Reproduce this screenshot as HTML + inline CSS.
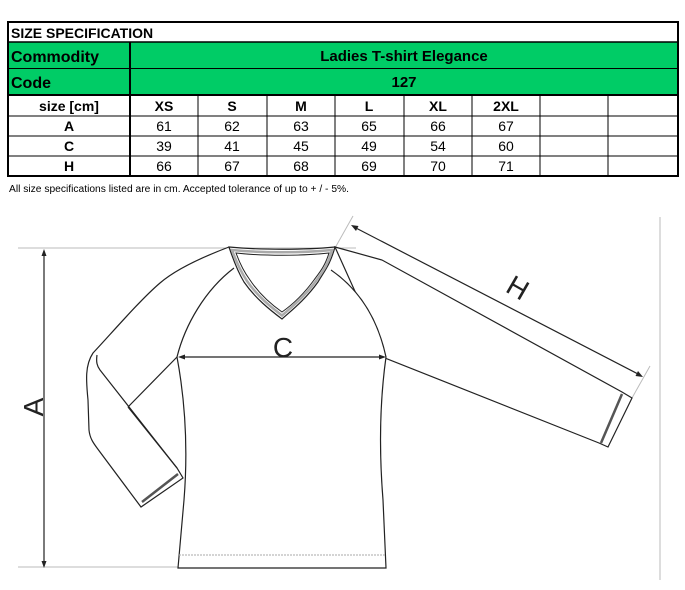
<!DOCTYPE html>
<html><head><style>
html,body{margin:0;padding:0;background:#fff;}
svg{display:block;font-family:"Liberation Sans",Arial,sans-serif;}
</style></head><body>
<svg width="685" height="590" viewBox="0 0 685 590" xmlns="http://www.w3.org/2000/svg">
<!-- table -->
<rect x="130" y="42" width="548" height="53" fill="#00cc66"/>
<rect x="8" y="42" width="122" height="53" fill="#00cc66"/>
<g stroke="#000" fill="none">
<rect x="8" y="22" width="670" height="154" stroke-width="2"/>
<line x1="8" y1="42" x2="678" y2="42" stroke-width="1.5"/>
<line x1="8" y1="68.5" x2="678" y2="68.5" stroke-width="1"/>
<line x1="8" y1="95" x2="678" y2="95" stroke-width="2"/>
<line x1="8" y1="116" x2="678" y2="116" stroke-width="1"/>
<line x1="8" y1="136" x2="678" y2="136" stroke-width="1"/>
<line x1="8" y1="156" x2="678" y2="156" stroke-width="1"/>
<line x1="130" y1="42" x2="130" y2="176" stroke-width="2"/>
<g stroke-width="1">
<line x1="198" y1="95" x2="198" y2="176"/><line x1="267" y1="95" x2="267" y2="176"/>
<line x1="335" y1="95" x2="335" y2="176"/><line x1="404" y1="95" x2="404" y2="176"/>
<line x1="472" y1="95" x2="472" y2="176"/><line x1="540" y1="95" x2="540" y2="176"/>
<line x1="608" y1="95" x2="608" y2="176"/>
</g></g>
<g font-weight="bold" fill="#000">
<text x="11" y="38" font-size="14">SIZE SPECIFICATION</text>
<text x="11" y="62" font-size="16">Commodity</text>
<text x="11" y="88" font-size="16">Code</text>
<text x="404" y="61" font-size="15" text-anchor="middle">Ladies T-shirt Elegance</text>
<text x="404" y="87" font-size="15" text-anchor="middle">127</text>
<g font-size="14" text-anchor="middle">
<text x="69" y="111">size [cm]</text>
<text x="164" y="111">XS</text><text x="232" y="111">S</text><text x="301" y="111">M</text>
<text x="369" y="111">L</text><text x="438" y="111">XL</text><text x="506" y="111">2XL</text>
<text x="69" y="131">A</text><text x="69" y="151">C</text><text x="69" y="171">H</text>
</g></g>
<g font-size="14" text-anchor="middle" fill="#000">
<text x="164" y="131">61</text><text x="232" y="131">62</text><text x="301" y="131">63</text><text x="369" y="131">65</text><text x="438" y="131">66</text><text x="506" y="131">67</text>
<text x="164" y="151">39</text><text x="232" y="151">41</text><text x="301" y="151">45</text><text x="369" y="151">49</text><text x="438" y="151">54</text><text x="506" y="151">60</text>
<text x="164" y="171">66</text><text x="232" y="171">67</text><text x="301" y="171">68</text><text x="369" y="171">69</text><text x="438" y="171">70</text><text x="506" y="171">71</text>
</g>
<text x="9" y="192" font-size="10" fill="#000" textLength="340" lengthAdjust="spacingAndGlyphs">All size specifications listed are in cm. Accepted tolerance of up to + / - 5%.</text>

<!-- reference lines -->
<g stroke="#bbb" stroke-width="1" fill="none">
<line x1="18" y1="248" x2="356" y2="248"/>
<line x1="18" y1="567" x2="178" y2="567"/>
<line x1="660" y1="217" x2="660" y2="580"/>
<line x1="335" y1="248" x2="353" y2="216"/>
<line x1="632" y1="398" x2="650" y2="366"/>
</g>
<!-- shirt -->
<g stroke="#222" stroke-width="1.2" fill="#fff">
<path d="M229,247 C200,258 175,270 160,283 C140,300 110,335 93,353 C85,365 86,380 88,400 L89,430 C90,440 95,445 100,452 L141,507 L183,478 L177,468 L128,407"/>
<path d="M97,355 C96,362 97,366 100,370 L177,468" fill="none"/>
<line x1="142" y1="502" x2="178" y2="474" stroke="#555" stroke-width="2.5"/>
<path d="M335,247 L382,260 L622,392 L632,398 L608,447 L599,443 L385,358 Z"/>
<line x1="622" y1="394" x2="601" y2="443" stroke="#555" stroke-width="2.5"/>
<path d="M234,268 C205,290 185,325 177,357 C185,400 188,450 184,500 L178,568 L386,568 L383,500 C379,450 380,400 386,357 C378,320 360,290 331,270" />
<path d="M177,357 L128,407" fill="none"/>
<!-- neck band -->
<path d="M229,247 C260,250 305,250 335,247 C330,265 325,270 318,282 C305,300 292,310 282,319 C270,310 255,298 244,282 C238,272 234,262 229,247 Z" fill="#fff"/>
<path d="M236,253 C262,256 302,256 329,253 C325,266 320,272 314,280 C303,295 292,305 282,312 C272,305 260,295 250,280 C244,272 240,264 236,253 Z" fill="#fff" stroke="#222" stroke-width="1"/>
<path d="M232,250 C262,253 302,253 332,250 C328,265 323,271 316,281 C304,297 292,307 282,315.5 C271,307 258,297 247,281 C241,272 237,264 232,250 Z" fill="none" stroke="#aaa" stroke-width="2.5"/>
<line x1="179" y1="555" x2="385" y2="555" stroke="#aaa" stroke-width="1" stroke-dasharray="2,1"/>
</g>
<!-- dimension arrows -->
<g stroke="#222" stroke-width="1.2" fill="#222">
<line x1="44" y1="252" x2="44" y2="565"/>
<path d="M44,249 L41.5,256 L46.5,256 Z" stroke="none"/>
<path d="M44,568 L41.5,561 L46.5,561 Z" stroke="none"/>
<line x1="181" y1="357" x2="382" y2="357"/>
<path d="M178,357 L185,354.5 L185,359.5 Z" stroke="none"/>
<path d="M386,357 L379,354.5 L379,359.5 Z" stroke="none"/>
<line x1="354" y1="227" x2="640" y2="375"/>
<path d="M351,225 L358.5,226 L356,231 Z" stroke="none"/>
<path d="M643,377 L635.5,376 L638,371 Z" stroke="none"/>
</g>
<text x="283" y="357" font-size="28" text-anchor="middle" fill="#222">C</text>
<text transform="translate(43,407) rotate(-90)" font-size="28" text-anchor="middle" fill="#222">A</text>
<text transform="translate(513,296) rotate(30)" font-size="28" text-anchor="middle" fill="#222">H</text>
</svg>
</body></html>
